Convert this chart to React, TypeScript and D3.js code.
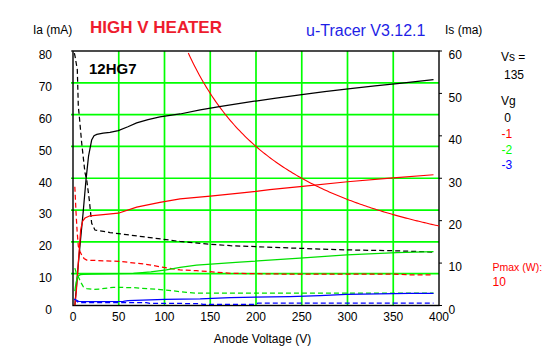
import React from "react";
import * as d3 from "d3";

// ---- data ----
const xTicks = [0, 50, 100, 150, 200, 250, 300, 350, 400];
const iaTicks = [0, 10, 20, 30, 40, 50, 60, 70, 80];
const isTicks = [0, 10, 20, 30, 40, 50, 60];
const gridVolts = [50, 100, 150, 200, 250, 300, 350];
const gridIa = [10, 20, 30, 40, 50, 60, 70];

const vgLabels = ["0", "-1", "-2", "-3"];
const vgColors = ["#000000", "#ff0000", "#00e000", "#0000ff"];
const screenVoltage = 135;
const pmaxWatts = 10;

// anode current Ia (mA) vs Va (V), per grid voltage
const iaVg0: [number, number][] = [
  [2, 0], [3.5, 5], [5.5, 12], [8, 20], [11, 29], [14.2, 39.5], [17, 47], [20.4, 52], [23, 53.4],
  [26, 53.8], [33, 54.2], [40.4, 54.4], [49.5, 55], [60, 56.2], [69.6, 57.4], [82, 58.4], [95, 59.3],
  [117, 60.2], [139, 61.5], [160, 62.5], [193, 64], [220, 65.1], [248, 66.2], [275, 67.2],
  [303, 68.2], [330, 69], [357, 69.8], [394, 71.0],
];
const iaVg1: [number, number][] = [
  [2, 0], [3.5, 4], [5.8, 13.4], [8.4, 23.8], [10.5, 26.5], [13.1, 27.5], [18.6, 28.2], [33, 28.6],
  [49.5, 29], [69.6, 30.9], [95, 32.4], [117, 33.5], [150, 34.4], [182, 35.3], [215, 36.4],
  [248, 37.4], [300, 38.9], [350, 40.1], [394, 41.1],
];
const iaVg2: [number, number][] = [
  [2, 4.5], [3.3, 7.2], [5, 9.1], [8, 9.7], [11.3, 9.8], [20, 9.9], [50, 10.0], [66, 10.1],
  [85, 10.6], [102, 11.2], [117, 12.0], [135, 12.7], [182, 13.6], [248, 14.9], [299, 15.9],
  [354, 16.6], [394, 16.9],
];
const iaVg3: [number, number][] = [
  [1.5, 2.0], [3, 1.8], [6, 1.3], [20, 1.2], [55, 1.3], [60, 1.5], [100, 1.9], [139, 2.05],
  [172, 2.5], [237, 2.8], [270, 3.1], [299, 3.5], [368, 3.8], [394, 3.8],
];

// screen current Is (mA) vs Va (V), per grid voltage
const isVg0: [number, number][] = [
  [1.5, 59.5], [2.2, 58.8], [4.7, 55.6], [5.8, 47], [6.9, 44.6], [9.5, 38.3], [13.1, 31.3],
  [15, 29.6], [17.8, 24.9], [20.4, 19.4], [24, 17.8], [40.4, 17.2], [58.7, 16.7], [87.8, 15.9],
  [117, 15.1], [140, 14.6], [172, 14.1], [220, 13.7], [270, 13.3], [303, 13.1], [354, 12.9],
  [394, 12.6],
];
const isVg1: [number, number][] = [
  [2, 28], [3.3, 22], [4.5, 17.5], [5.8, 14], [7.5, 12.8], [9.5, 11.9], [12, 11.1], [15, 10.7],
  [26, 10.6], [51, 10.4], [77, 9.8], [99, 9.0], [117, 8.4], [135, 8.2], [172, 7.6], [233, 7.4],
  [350, 7.4], [372, 7.2], [394, 7.2],
];
const isVg2: [number, number][] = [
  [2, 8.8], [3.5, 7.8], [5.8, 6.8], [8.5, 5.5], [11.3, 4.4], [15, 4.0], [22, 3.8], [30, 3.9],
  [44, 4.3], [66, 4.2], [99, 3.7], [124, 3.1], [135, 2.9], [394, 2.9],
];
const isVg3: [number, number][] = [
  [1.5, 1.5], [3, 1.2], [6, 0.7], [80, 0.66], [84, 0.52], [139, 0.45], [142, 0.28], [199, 0.28],
  [202, 0.55], [394, 0.55],
];

const iaSeries = [iaVg0, iaVg1, iaVg2, iaVg3];
const isSeries = [isVg0, isVg1, isVg2, isVg3];

// Pmax hyperbola voltages
const pmaxVolts = d3.range(124, 401, 2);

const FONT = "'Liberation Sans', Arial, sans-serif";

export default function App() {
  const W = 547;
  const H = 357;
  const x = d3.scaleLinear().domain([0, 400]).range([73, 439]);
  const yL = d3.scaleLinear().domain([0, 80]).range([305.5, 51]);
  const yR = d3.scaleLinear().domain([0, 60]).range([305.5, 51]);

  const lineL = d3.line<[number, number]>().x((d) => x(d[0])).y((d) => yL(d[1]));
  const lineR = d3.line<[number, number]>().x((d) => x(d[0])).y((d) => yR(d[1]));

  const pmaxPts: [number, number][] = pmaxVolts
    .map((v) => [v, (pmaxWatts * 1000) / v] as [number, number])
    .filter((d) => d[1] <= 80.5);

  const [x0, x1] = x.range();
  const [yb, yt] = yL.range();

  return (
    <svg
      width={W}
      height={H}
      style={{ position: "absolute", left: 0, top: 0, background: "#fff" }}
      fontFamily={FONT}
    >
      <rect x={0} y={0} width={W} height={H} fill="#fff" />
      <defs>
        <clipPath id="plotclip">
          <rect x={x0} y={yt} width={x1 - x0} height={yb - yt} />
        </clipPath>
      </defs>

      {/* grid */}
      {gridVolts.map((v) => (
        <line key={"gv" + v} x1={x(v)} x2={x(v)} y1={yt} y2={yb} stroke="#00ff00" strokeWidth={1.7} />
      ))}
      {gridIa.map((v) => (
        <line key={"gh" + v} x1={x0 - 2} x2={x1} y1={yL(v)} y2={yL(v)} stroke="#00ff00" strokeWidth={1.7} />
      ))}

      {/* box */}
      <rect x={x0} y={yt} width={x1 - x0} height={yb - yt} fill="none" stroke="#000" strokeWidth={1.4} />
      <line x1={x0 - 2} x2={x0} y1={yt} y2={yt} stroke="#000" />

      {/* right ticks */}
      {isTicks.map((t) => (
        <line key={"rt" + t} x1={x1} x2={x1 + 3} y1={yR(t)} y2={yR(t)} stroke="#000" />
      ))}

      {/* curves */}
      <g clipPath="url(#plotclip)" fill="none">
        <path d={lineL(pmaxPts) || ""} stroke="#ff0000" strokeWidth={1.1} />
        {isSeries.map((s, i) => (
          <path key={"is" + i} d={lineR(s) || ""} stroke={vgColors[i]} strokeWidth={1.25} strokeDasharray="5,3" />
        ))}
        {iaSeries.map((s, i) => (
          <path key={"ia" + i} d={lineL(s) || ""} stroke={vgColors[i]} strokeWidth={1.25} />
        ))}
      </g>

      {/* left tick labels */}
      {iaTicks.map((t) => (
        <text key={"lt" + t} x={52} y={yL(t) + 8.3} fontSize={12} textAnchor="end" fill="#000">
          {t}
        </text>
      ))}
      {/* right tick labels */}
      {isTicks.map((t) => (
        <text key={"rl" + t} x={448.5} y={yR(t) + 8.3} fontSize={12} textAnchor="start" fill="#000">
          {t}
        </text>
      ))}
      {/* bottom tick labels */}
      {xTicks.map((t) => (
        <text key={"bt" + t} x={x(t)} y={321} fontSize={12} textAnchor="middle" fill="#000">
          {t}
        </text>
      ))}

      {/* axis titles */}
      <text x={33} y={34} fontSize={12} fill="#000">Ia (mA)</text>
      <text x={445} y={34} fontSize={12} fill="#000">Is (ma)</text>
      <text x={262.5} y={342.5} fontSize={12} textAnchor="middle" fill="#000">Anode Voltage (V)</text>

      {/* titles */}
      <text x={90} y={33} fontSize={17} fontWeight="bold" fill="#ee1c2e">HIGH V HEATER</text>
      <text x={306} y={36} fontSize={16} fill="#1e1ee6">u-Tracer V3.12.1</text>
      <text x={89} y={73.5} fontSize={15} fontWeight="bold" fill="#000">12HG7</text>

      {/* right legend */}
      <text x={501} y={61} fontSize={12} fill="#000">Vs =</text>
      <text x={504} y={79.3} fontSize={12} fill="#000">{screenVoltage}</text>
      <text x={501} y={104.5} fontSize={12} fill="#000">Vg</text>
      {vgLabels.map((l, i) => (
        <text
          key={"vg" + i}
          x={l.startsWith("-") ? 501.5 : 504.3}
          y={122.3 + i * 15.6}
          fontSize={12}
          fill={vgColors[i] === "#00e000" ? "#00ff00" : vgColors[i]}
        >
          {l}
        </text>
      ))}
      <text x={492.5} y={270.7} fontSize={10.5} fill="#ff0000">Pmax (W):</text>
      <text x={492.5} y={285.7} fontSize={12} fill="#ff0000">{pmaxWatts}</text>
    </svg>
  );
}
